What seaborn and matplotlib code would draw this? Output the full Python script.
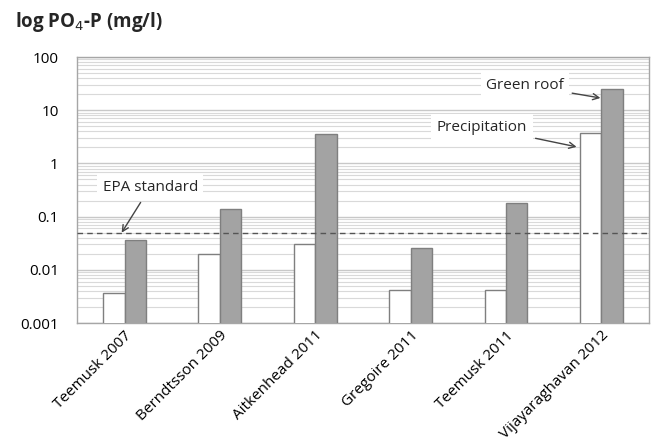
import numpy as np
import pandas as pd
import matplotlib
matplotlib.use("Agg")
import matplotlib.pyplot as plt
import seaborn as sb

# data
studies = ["Teemusk 2007", "Berndtsson 2009", "Aitkenhead 2011",
           "Gregoire 2011", "Teemusk 2011", "Vijayaraghavan 2012"]
precipitation = [0.0036, 0.020, 0.030, 0.0042, 0.0042, 3.7]
green_roof = [0.036, 0.138, 3.55, 0.026, 0.18, 25.0]
epa_standard = 0.05

df = pd.DataFrame({
    "study": studies * 2,
    "value": precipitation + green_roof,
    "source": ["Precipitation"] * len(studies) + ["Green roof"] * len(studies),
})

sb.set_style("white")
plt.rcParams['font.family'] = ['Open Sans', 'DejaVu Sans']

fig = plt.figure(figsize=(6.51, 4.42), dpi=100)
ax = fig.add_axes([0.118, 0.269, 0.879, 0.602])

sb.barplot(data=df, x="study", y="value", hue="source",
           palette={"Precipitation": "white", "Green roof": "#a3a3a3"},
           edgecolor="#7f7f7f", linewidth=1.0, width=0.45,
           legend=False, ax=ax, zorder=3)

ax.set_yscale("log")
ax.set_ylim(0.001, 100)
ax.set_xlim(-0.5, len(studies) - 0.5)
ax.set_yticks([0.001, 0.01, 0.1, 1, 10, 100])
ax.set_yticklabels(["0.001", "0.01", "0.1", "1", "10", "100"])
ax.yaxis.set_minor_locator(matplotlib.ticker.LogLocator(base=10, subs=np.arange(2, 10)))
ax.yaxis.set_minor_formatter(matplotlib.ticker.NullFormatter())
ax.grid(True, which="major", axis="y", color="#c8c8c8", linewidth=1.0, zorder=0)
ax.grid(True, which="minor", axis="y", color="#d9d9d9", linewidth=0.8, zorder=0)
ax.tick_params(axis="both", which="both", length=0)
ax.tick_params(axis="y", labelsize=11, pad=13, labelcolor="black")
ax.tick_params(axis="x", labelsize=11, labelcolor="black")
ax.set_xlabel("")
ax.set_ylabel("")
for lbl in ax.get_xticklabels():
    lbl.set_rotation(45)
    lbl.set_ha("right")
    lbl.set_rotation_mode("anchor")
    lbl.set_fontweight("medium")
for lbl in ax.get_yticklabels():
    lbl.set_fontweight("medium")
for s in ax.spines.values():
    s.set_color("#a6a6a6")
    s.set_linewidth(1.0)

# EPA standard line
ax.axhline(epa_standard, color="#555555", linestyle=(0, (4, 3)), linewidth=1.0, zorder=4)

box = dict(facecolor="white", edgecolor="none", pad=4)
arrow = dict(arrowstyle="->", color="#444444", linewidth=1.0, shrinkA=2, shrinkB=0)
ax.annotate("EPA standard", xy=(-0.03, epa_standard), xytext=(0.27, 0.36),
            fontsize=11, ha="center", va="center", bbox=box, arrowprops=arrow,
            zorder=5)
ax.annotate("Precipitation", xy=(4.74, 2.05), xytext=(3.75, 4.8),
            fontsize=11, ha="center", va="center", bbox=box, arrowprops=arrow,
            zorder=5)
ax.annotate("Green roof", xy=(4.99, 17), xytext=(4.2, 29.6),
            fontsize=11, ha="center", va="center", bbox=box, arrowprops=arrow,
            zorder=5)

fig.text(0.023, 0.95, "log PO$_4$-P (mg/l)", fontsize=13.5, fontweight="bold",
         ha="left", va="center")

fig.savefig("out.png", dpi=100)
